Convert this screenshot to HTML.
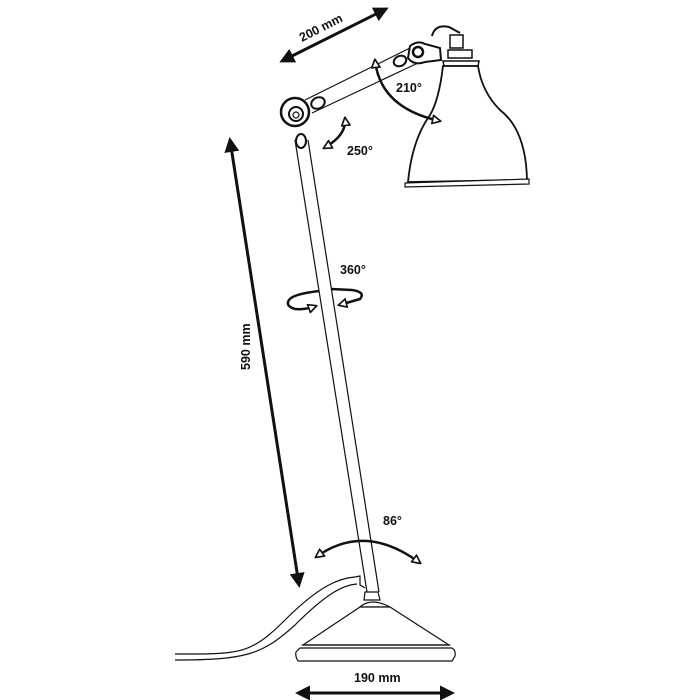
<!DOCTYPE html>
<html><head><style>body{margin:0;background:#fff}svg{display:block}text{font-family:"Liberation Sans",sans-serif;font-weight:bold;font-size:12.5px;fill:#111}</style></head><body>
<svg width="700" height="700" viewBox="0 0 700 700" xmlns="http://www.w3.org/2000/svg">
<defs>
<marker id="ah" viewBox="0 0 10 10" refX="8" refY="5" markerWidth="5" markerHeight="5" orient="auto-start-reverse"><path d="M0,0L10,5L0,10z" fill="#111"/></marker>
<marker id="oh" viewBox="0 0 12 12" refX="10" refY="6" markerWidth="4" markerHeight="4" orient="auto-start-reverse"><path d="M1,1L11,6L1,11z" fill="#fff" stroke="#111" stroke-width="2"/></marker>
</defs>
<g fill="none" stroke="#111">
<line x1="282" y1="61" x2="386" y2="9" stroke-width="3" marker-start="url(#ah)" marker-end="url(#ah)"/>
<line x1="230" y1="140" x2="299" y2="585" stroke-width="3" marker-start="url(#ah)" marker-end="url(#ah)"/>
<line x1="298" y1="693" x2="452" y2="693" stroke-width="3" marker-start="url(#ah)" marker-end="url(#ah)"/>
<g stroke-width="1.2">
<line x1="295" y1="140" x2="367" y2="592"/>
<line x1="308" y1="140" x2="379" y2="592"/>
</g>
<path d="M175,654 C240,654 250,655 285,620 C320,585 340,578 355,577" stroke-width="1.2"/>
<path d="M175,660 C245,660 262,655 295,625 C325,595 342,585 357,584" stroke-width="1.2"/>
<path d="M355,577 L360,576 L360,585 L365,588" stroke-width="1.2"/>
<path d="M365,592 L378,592 L380,600 L364,600 Z" stroke-width="1.2" fill="#fff"/>
<path d="M360,607 Q371,597 390,607 Z" stroke-width="1.2" fill="#fff"/>
<path d="M360,607 L303,645 L449,645 L390,607 Z" stroke-width="1.2" fill="#fff"/>
<path d="M300,648 L452,648 Q456,650 455,656 L452,661 L298,661 Q295,656 296,652 Z" stroke-width="1.2" fill="#fff"/>
<line x1="302" y1="645" x2="450" y2="645" stroke-width="1.2"/>
<g stroke-width="1.2">
<line x1="305" y1="100" x2="410" y2="48"/>
<line x1="312" y1="113" x2="418" y2="63"/>
</g>
<circle cx="295" cy="112" r="14" stroke-width="2.5" fill="#fff"/>
<circle cx="296" cy="114" r="7" stroke-width="2" fill="#fff"/>
<circle cx="296" cy="115" r="3" stroke-width="1.2"/>
<ellipse cx="318" cy="103" rx="7" ry="5.5" stroke-width="2" fill="#fff" transform="rotate(-25 318 103)"/>
<ellipse cx="301" cy="141" rx="5" ry="7" stroke-width="2" fill="#fff"/>
<ellipse cx="400" cy="61" rx="6.5" ry="5" stroke-width="2" fill="#fff" transform="rotate(-25 400 61)"/>
<path d="M410,46 Q418,40 425,44 L440,48 L441,60 L425,62 Q414,66 408,58 Z" stroke-width="2" fill="#fff"/>
<circle cx="418" cy="52" r="5" stroke-width="2.5" fill="#fff"/>
<path d="M432,36 Q435,24 449,27 L460,33" stroke-width="2"/>
<path d="M450,35 L463,35 L463,48 L450,48 Z" stroke-width="1.5" fill="#fff"/>
<path d="M448,50 L472,50 L472,58 L448,58 Z" stroke-width="1.5" fill="#fff"/>
<path d="M443,61 L479,61 L478,66 L444,66 Z" stroke-width="1.5" fill="#fff"/>
<path d="M443,66 Q439,100 430,115 Q412,140 408,182 L527,180 Q526,130 500,110 Q482,92 478,66 Z" stroke-width="1.8" fill="#fff"/>
<path d="M405,183 L529,179 L529,184 L405,187 Z" stroke-width="1.2" fill="#fff"/>
<path d="M345,118 Q347,135 324,148" stroke-width="2.5" marker-start="url(#oh)" marker-end="url(#oh)"/>
<path d="M375,60 Q380,108 440,121" stroke-width="2.5" marker-start="url(#oh)" marker-end="url(#oh)"/>
<path d="M316,306 Q305,310 295,309 Q285,306 289,300 Q293,294 319,291" stroke-width="2.5" marker-start="url(#oh)"/>
<path d="M339,305 Q350,302 360,299 Q366,292 352,290 L331,289" stroke-width="2.5" marker-start="url(#oh)"/>
<path d="M316,557 Q365,522 420,563" stroke-width="2.5" marker-start="url(#oh)" marker-end="url(#oh)"/>
</g>
<text transform="translate(302,42) rotate(-27)">200 mm</text>
<text x="396" y="92">210°</text>
<text x="347" y="155">250°</text>
<text x="340" y="274">360°</text>
<text x="383" y="525">86°</text>
<text x="354" y="682">190 mm</text>
<text transform="translate(250,370) rotate(-90)">590 mm</text>
</svg>
</body></html>
